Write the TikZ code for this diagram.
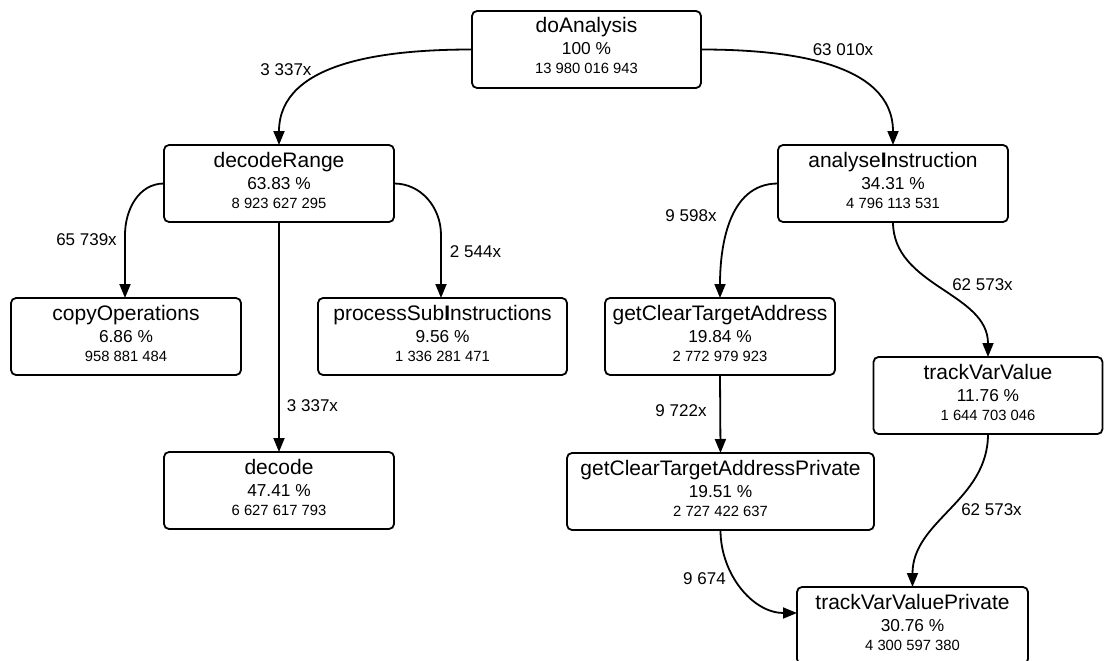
\documentclass[tikz,border=0pt]{standalone}
\usepackage{fontspec}
\setmainfont{Liberation Sans}
\usetikzlibrary{arrows.meta,calc}
\tikzset{
  box/.style={draw, line width=1.8pt, rounded corners=5pt, minimum height=77pt, inner sep=0pt, outer sep=0pt},
  nm/.style={font=\fontsize{21}{24}\selectfont, inner sep=0pt},
  pc/.style={font=\fontsize{17.3}{20}\selectfont, inner sep=0pt},
  ct/.style={font=\fontsize{14.8}{17}\selectfont, inner sep=0pt},
  lbl/.style={font=\fontsize{17}{20}\selectfont, inner sep=0pt},
  conn/.style={line width=1.8pt, -{Triangle[length=14pt,width=11pt]}},
}
\newcommand\callbox[7]{%
  \node[box, minimum width=#4pt, anchor=north] (#1) at (#2,-#3) {};
  \node[nm, anchor=base] (#1-n) at ($(#1.north)+(0,-22)$) {#5};
  \node[pc, anchor=base] (#1-p) at ($(#1.north)+(0,-44)$) {#6};
  \node[ct, anchor=base] (#1-c) at ($(#1.north)+(0,-63)$) {#7};
}
\begin{document}
\begin{tikzpicture}[x=1pt,y=1pt]
\useasboundingbox (0,0) rectangle (1104,-661);
\callbox{doA}{586.5}{11}{229}{doAnalysis}{100 \%}{13 980 016 943}
\callbox{decR}{279}{145}{230}{decodeRange}{63.83 \%}{8 923 627 295}
\callbox{copy}{126}{298}{230}{copyOperations}{6.86 \%}{958 881 484}
\callbox{proc}{442.5}{298}{249}{processSub\textbf{I}nstructions}{9.56 \%}{1 336 281 471}
\callbox{dec}{279}{452}{230}{decode}{47.41 \%}{6 627 617 793}
\callbox{ana}{893}{145}{230}{analyse\textbf{I}nstruction}{34.31 \%}{4 796 113 531}
\callbox{gcta}{720}{298}{230}{getClearTargetAddress}{19.84 \%}{2 772 979 923}
\callbox{gctap}{720.5}{453}{307}{getClearTargetAddressPrivate}{19.51 \%}{2 727 422 637}
\callbox{tvv}{988}{357}{229}{trackVarValue}{11.76 \%}{1 644 703 046}
\callbox{tvvp}{912.5}{587}{231}{trackVarValuePrivate}{30.76 \%}{4 300 597 380}

\coordinate (c1) at (125,-235);
\coordinate (c2) at (441,-235);
\coordinate (tvvpin) at ($(tvvp.north west)+(0,-26)$);

\draw[conn] (doA.west) to[out=180,in=90] (decR.north);
\draw[conn] (doA.east) to[out=0,in=90] (ana.north);
\draw[line width=1.8pt] (decR.west) to[out=180,in=90] (c1);
\draw[conn] (c1) -- (c1 |- copy.north);
\draw[line width=1.8pt] (decR.east) to[out=0,in=90] (c2);
\draw[conn] (c2) -- (c2 |- proc.north);
\draw[conn] (decR.south) -- (dec.north);
\draw[conn] (ana.west) to[out=180,in=90] (gcta.north);
\draw[conn] (ana.south) to[out=-90,in=90] (tvv.north);
\draw[conn] (gcta.south) -- (gctap.north);
\draw[conn] (tvv.south) to[out=-90,in=90] (tvvp.north);
\draw[conn] (gctap.south) to[out=-90,in=180] (tvvpin);

\node[lbl] (l1) at (286,-70) {3 337x};
\node[lbl] (l2) at (843,-50) {63 010x};
\node[lbl] (l3) at (86.5,-240) {65 739x};
\node[lbl] (l4) at (475.5,-252) {2 544x};
\node[lbl] (l5) at (312.5,-406) {3 337x};
\node[lbl] (l6) at (691,-216) {9 598x};
\node[lbl] (l7) at (982.5,-285) {62 573x};
\node[lbl] (l8) at (681,-411) {9 722x};
\node[lbl] (l9) at (991.5,-510) {62 573x};
\node[lbl] (l10) at (704.5,-579) {9 674};
\end{tikzpicture}
\end{document}
